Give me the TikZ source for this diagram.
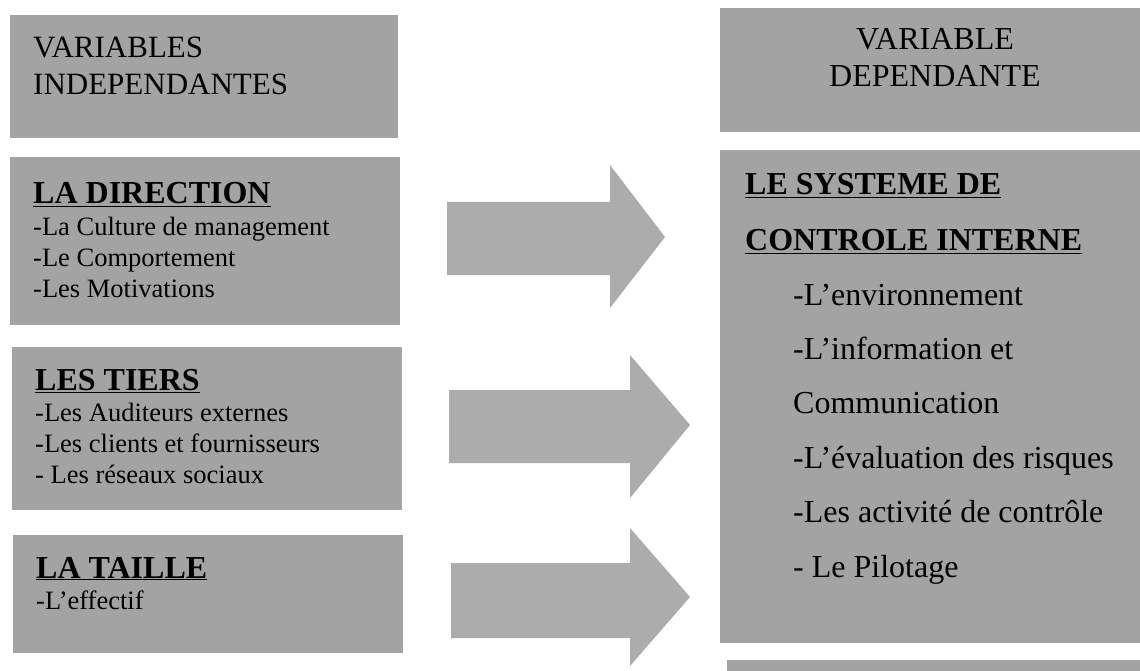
\documentclass[tikz,border=0pt]{standalone}
\usepackage{fontspec}
\setmainfont{Liberation Serif}
\usetikzlibrary{positioning}
\definecolor{boxgray}{RGB}{163,163,163}
\definecolor{arrowgray}{RGB}{172,172,172}
\tikzset{box/.style={fill=boxgray, inner sep=0pt, anchor=north west},
         head/.style={anchor=base west, inner sep=0pt, font=\fontsize{31}{36}\selectfont},
         title/.style={anchor=base west, inner sep=0pt, font=\fontsize{32}{37}\selectfont\bfseries},
         item/.style={anchor=base west, inner sep=0pt, font=\fontsize{26.5}{31}\selectfont},
         bigitem/.style={anchor=base west, inner sep=0pt, font=\fontsize{32}{37}\selectfont}}

\begin{document}
\begin{tikzpicture}[x=1pt, y=-1pt]
    \useasboundingbox[fill=white] (0,0) rectangle (1140,671);
    % left column
    \node[box, minimum width=388, minimum height=123] (hdrL) at (10,15) {};
    \node[box, minimum width=390, minimum height=168] (dir) at (10,157) {};
    \node[box, minimum width=390, minimum height=163] (tiers) at (12,347) {};
    \node[box, minimum width=390, minimum height=118] (taille) at (13,535) {};
    % right column
    \node[box, minimum width=420, minimum height=124] (hdrR) at (720,8) {};
    \node[box, minimum width=420, minimum height=493] (sci) at (720,150) {};
    \node[box, minimum width=413, minimum height=11] (next) at (727,660) {};

    \node[head] (indep1) at (33,58) {VARIABLES};
    \node[head] (indep2) at (33,95) {INDEPENDANTES};
    \node[head, anchor=base, font=\fontsize{32}{37}\selectfont] (dep1) at (935,50) {VARIABLE};
    \node[head, anchor=base, font=\fontsize{32}{37}\selectfont] (dep2) at (935,87) {DEPENDANTE};

    \node[title] (dirT) at (33,204) {\underline{LA DIRECTION}};
    \foreach \txt [count=\i] in {{-La Culture de management},{-Le Comportement},{-Les Motivations}}
        \node[item] (dir\i) at (33,{204+31*\i}) {\txt};

    \node[title] (tiersT) at (35,390) {\underline{LES TIERS}};
    \foreach \txt [count=\i] in {{-Les Auditeurs externes},{-Les clients et fournisseurs},{- Les réseaux sociaux}}
        \node[item] (tiers\i) at (35,{390+31*\i}) {\txt};

    \node[title] (tailleT) at (36,578) {\underline{LA TAILLE}};
    \node[item] (taille1) at (36,609) {-L'effectif};

    \node[title] (sciT1) at (745,195) {\underline{LE SYSTEME DE}};
    \node[title] (sciT2) at (745,251) {\underline{CONTROLE INTERNE}};
    \foreach \txt [count=\i] in {{-L'environnement},{-L'information et},{Communication},{-L'évaluation des risques},{-Les activité de contrôle},{- Le Pilotage}}
        \node[bigitem] (sci\i) at (793,{305+54.4*(\i-1)}) {\txt};

    % block arrows
    \fill[arrowgray] (447,202) -- (610,202) -- (610,165) -- (665,237) -- (610,308) -- (610,275) -- (447,275) -- cycle;
    \fill[arrowgray] (449,390) -- (630,390) -- (630,355) -- (690,425) -- (630,498) -- (630,463) -- (449,463) -- cycle;
    \fill[arrowgray] (451,563) -- (630,563) -- (630,528) -- (690,597) -- (630,666) -- (630,638) -- (451,638) -- cycle;
\end{tikzpicture}
\end{document}
